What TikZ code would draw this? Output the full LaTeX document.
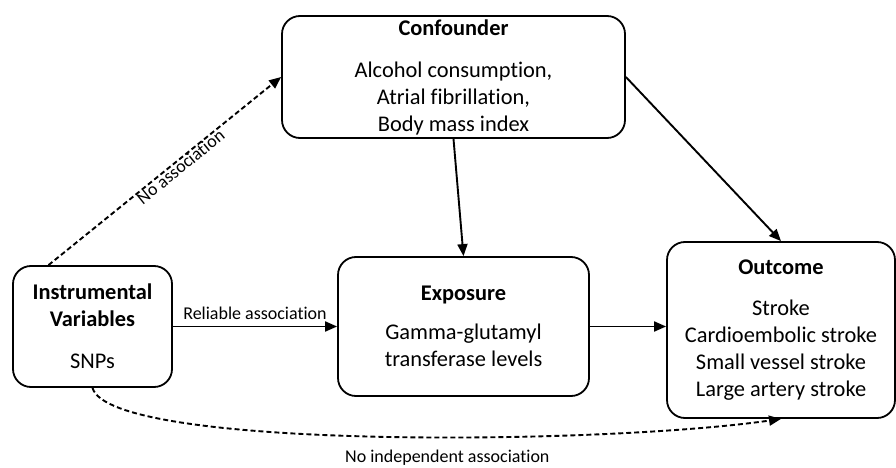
\documentclass[tikz,border=0pt]{standalone}
\usepackage{fontspec}
\setmainfont{Carlito}[Ligatures=NoCommon]
\usetikzlibrary{arrows.meta}

\begin{document}
\begin{tikzpicture}[x=1pt, y=-1pt,
  every node/.style={font=\fontsize{22.4}{27}\selectfont, align=center},
  blocco/.style={draw, line width=1.8pt, rounded corners=18pt, inner sep=0pt},
  freccia/.style={line width=1.9pt, -{Triangle[length=12pt,width=10pt]}},
  tratteggio/.style={freccia, dash pattern=on 5pt off 3pt},
  etichetta/.style={font=\fontsize{18}{20}\selectfont}]
  \useasboundingbox (0,0) rectangle (896,468);

  % Blocchi
  \node[blocco, minimum width=343pt, minimum height=122pt] (conf) at (453.5,77)
    {\textbf{Confounder}\\[15pt] Alcohol consumption,\\ Atrial fibrillation,\\ Body mass index};
  \node[blocco, minimum width=159pt, minimum height=121pt] (iv) at (92.5,326.5)
    {\textbf{Instrumental}\\ \textbf{Variables}\\[15pt] SNPs};
  \node[blocco, minimum width=251pt, minimum height=139pt] (exp) at (463.5,326.5)
    {\textbf{Exposure}\\[12pt] Gamma-glutamyl\\ transferase levels};
  \node[blocco, minimum width=228pt, minimum height=176pt] (out) at (781,330)
    {\textbf{Outcome}\\[14pt] Stroke\\ Cardioembolic stroke\\ Small vessel stroke\\ Large artery stroke};

  % Frecce
  \draw[freccia] (iv.east) -- (exp.west)
    node[etichetta, midway, above=3pt] {Reliable association};
  \draw[freccia] (exp.east) -- (exp.east -| out.west);
  \draw[freccia] (conf.south) -- (exp.north);
  \draw[freccia] (conf.east) -- (out.north);

  % Tratteggi
  \draw[tratteggio] ([xshift=-44pt]iv.north) -- (conf.west)
    node[etichetta, sloped, pos=0.55, below=-4pt] {No association};
  \draw[tratteggio] (iv.south) .. controls (110,450) and (600,445) .. (out.south)
    node[etichetta, pos=0.58, below=9pt] {No independent association};
\end{tikzpicture}
\end{document}
